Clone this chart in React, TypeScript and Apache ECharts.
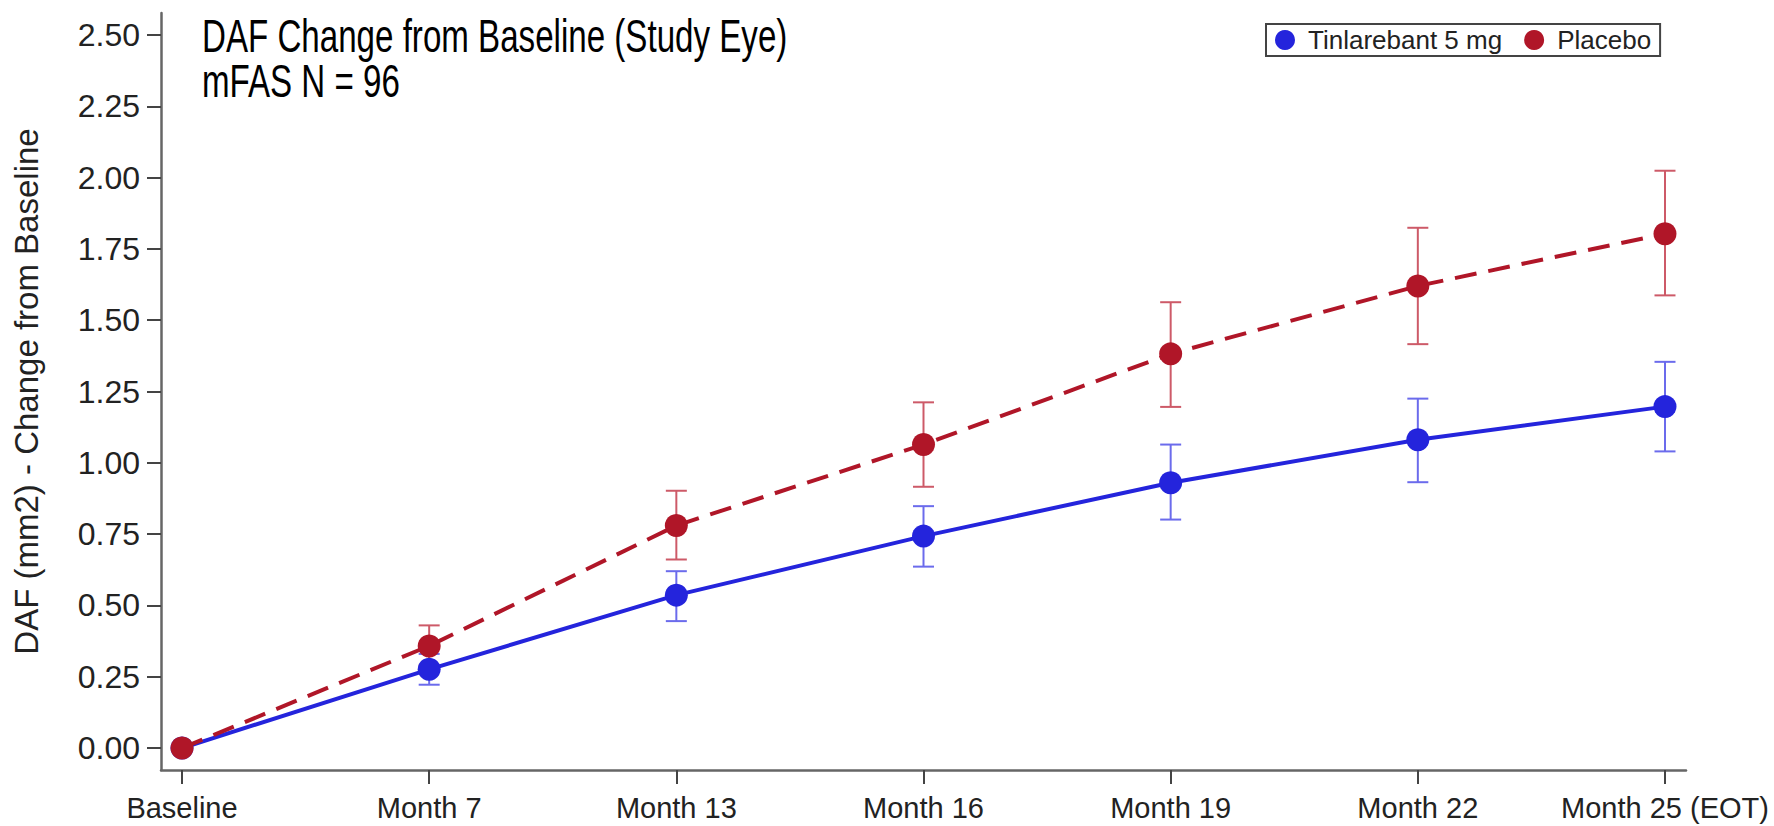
import React, { useEffect, useRef } from "react";
import * as echarts from "echarts";

const categories = ["Baseline", "Month 7", "Month 13", "Month 16", "Month 19", "Month 22", "Month 25 (EOT)"];
const yTicks = [0, 0.25, 0.5, 0.75, 1.0, 1.25, 1.5, 1.75, 2.0, 2.25, 2.5];

const tinName = "Tinlarebant 5 mg";
const tinMean = [0, 0.276, 0.536, 0.743, 0.93, 1.081, 1.197];
const tinLow = [0, 0.222, 0.445, 0.636, 0.801, 0.932, 1.04];
const tinHigh = [0, 0.33, 0.62, 0.848, 1.064, 1.225, 1.354];

const plaName = "Placebo";
const plaMean = [0, 0.358, 0.78, 1.064, 1.382, 1.62, 1.803];
const plaLow = [0, 0.29, 0.661, 0.916, 1.196, 1.416, 1.587];
const plaHigh = [0, 0.43, 0.902, 1.212, 1.563, 1.824, 2.024];

const titleLine1 = "DAF Change from Baseline (Study Eye)";
const titleLine2 = "mFAS N = 96";
const yAxisName = "DAF (mm2) - Change from Baseline";

const BLUE = "#2424dc";
const BLUE_ERR = "#6b6bec";
const RED = "#b01628";
const RED_ERR = "#cd5a68";
const FONT = "'Liberation Sans', Arial, Helvetica, sans-serif";

function errorSeries(low: number[], high: number[], color: string) {
  return {
    type: "custom",
    z: 1,
    silent: true,
    data: low.map((l, i) => [i, l, high[i]]),
    encode: { x: 0, y: [1, 2] },
    renderItem: (params: any, api: any) => {
      const x = api.value(0);
      const lo = api.value(1);
      const hi = api.value(2);
      if (lo === hi) return null;
      const p1 = api.coord([x, lo]);
      const p2 = api.coord([x, hi]);
      const hw = 10.5;
      const style = { stroke: color, lineWidth: 2 };
      return {
        type: "group",
        children: [
          { type: "line", shape: { x1: p1[0], y1: p1[1], x2: p2[0], y2: p2[1] }, style },
          { type: "line", shape: { x1: p1[0] - hw, y1: p1[1], x2: p1[0] + hw, y2: p1[1] }, style },
          { type: "line", shape: { x1: p2[0] - hw, y1: p2[1], x2: p2[0] + hw, y2: p2[1] }, style },
        ],
      };
    },
  };
}

const titleStyle = {
  fontFamily: "'Liberation Sans', Arial, sans-serif",
  fontSize: 46,
  fill: "#000",
  verticalAlign: "middle",
};

export default function App() {
  const ref = useRef<HTMLDivElement>(null);
  useEffect(() => {
    if (!ref.current) return;
    const chart = echarts.init(ref.current, null, { renderer: "svg" });
    const idx = categories.map((_, i) => i);
    chart.setOption({
      animation: false,
      backgroundColor: "#ffffff",
      grid: { left: 161, right: 88, top: 13, bottom: 56 },
      legend: {
        data: [tinName, plaName],
        left: 1266,
        top: 24,
        icon: "circle",
        itemWidth: 36,
        itemHeight: 20,
        itemGap: 22,
        padding: [3, 9, 3, 9],
        borderColor: "#444",
        borderWidth: 2,
        textStyle: { fontFamily: FONT, fontSize: 26, color: "#222" },
      },
      graphic: [
        { type: "text", x: 202, y: 36, scaleX: 0.72, style: { ...titleStyle, text: titleLine1 } },
        { type: "text", x: 202, y: 81, scaleX: 0.72, style: { ...titleStyle, text: titleLine2 } },
      ],
      xAxis: {
        type: "value",
        min: -0.085,
        max: 6.085,
        splitLine: { show: false },
        axisLine: { show: true, onZero: false, lineStyle: { color: "#666", width: 2.5 } },
        axisTick: { show: true, length: 14, customValues: idx, lineStyle: { color: "#444", width: 2 } },
        axisLabel: {
          customValues: idx,
          margin: 23,
          fontFamily: FONT,
          fontSize: 29,
          color: "#222",
          formatter: (v: number) => categories[Math.round(v)],
        },
      },
      yAxis: {
        type: "value",
        min: -0.077,
        max: 2.577,
        name: yAxisName,
        nameLocation: "middle",
        nameRotate: 90,
        nameGap: 118,
        nameTextStyle: { fontFamily: FONT, fontSize: 33, color: "#222" },
        splitLine: { show: false },
        axisLine: { show: true, onZero: false, lineStyle: { color: "#666", width: 2.5 } },
        axisTick: { show: true, length: 14, customValues: yTicks, lineStyle: { color: "#444", width: 2 } },
        axisLabel: {
          customValues: yTicks,
          margin: 21,
          fontFamily: FONT,
          fontSize: 32,
          color: "#222",
          formatter: (v: number) => v.toFixed(2),
        },
      },
      series: [
        errorSeries(tinLow, tinHigh, BLUE_ERR),
        errorSeries(plaLow, plaHigh, RED_ERR),
        {
          name: tinName,
          type: "line",
          z: 3,
          data: tinMean.map((v, i) => [i, v]),
          symbol: "circle",
          symbolSize: 23,
          lineStyle: { color: BLUE, width: 4, type: "solid" },
          itemStyle: { color: BLUE },
        },
        {
          name: plaName,
          type: "line",
          z: 4,
          data: plaMean.map((v, i) => [i, v]),
          symbol: "circle",
          symbolSize: 23,
          lineStyle: { color: RED, width: 4, type: [22, 12] },
          itemStyle: { color: RED },
        },
      ],
    });
    return () => chart.dispose();
  }, []);
  return (
    <div
      ref={ref}
      style={{ position: "absolute", left: 0, top: 0, width: "1774px", height: "826px" }}
    />
  );
}
